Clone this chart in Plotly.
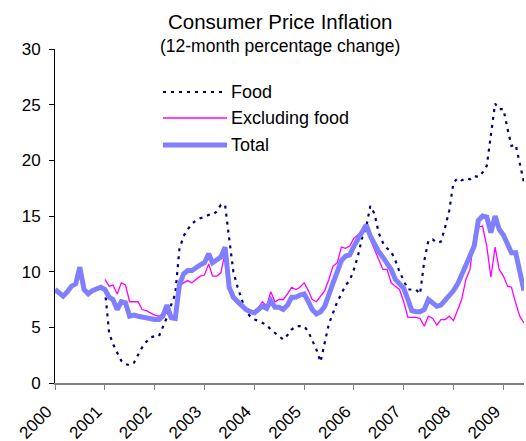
import plotly.graph_objects as go
import pandas as pd

start_total = "2000-01-01"
start_sub = "2001-01-01"

total = [8.4, 8.1, 7.8, 8.2, 8.7, 8.9, 10.4, 8.4, 8.0, 8.3, 8.5, 8.6,
         8.4, 7.7, 7.5, 6.6, 7.3, 7.2, 6.0, 6.1, 6.0, 5.9, 5.9, 5.8,
         5.7, 5.7, 6.0, 7.0, 5.9, 5.8, 8.8, 9.8, 10.1, 10.1, 10.4, 10.6,
         10.8, 11.6, 10.8, 11.1, 11.3, 12.2, 8.6, 7.7, 7.3, 6.9, 6.6, 6.4,
         6.3, 6.6, 6.9, 6.7, 7.4, 6.8, 6.8, 6.6, 7.0, 7.7, 7.7, 7.9,
         8.0, 7.3, 6.6, 6.2, 6.4, 6.9, 7.8, 9.0, 10.0, 11.0, 11.4, 11.5,
         12.3, 13.0, 13.6, 14.2, 13.2, 12.4, 11.8, 11.3, 10.8, 10.2, 9.3, 8.9,
         8.5, 7.5, 6.5, 6.4, 6.4, 6.6, 7.5, 7.2, 6.9, 7.0, 7.4, 7.9,
         8.3, 8.9, 9.7, 10.6, 11.3, 12.3, 14.6, 15.0, 14.9, 13.5, 15.0, 13.8,
         13.3, 12.5, 11.7, 11.7, 10.0, 8.3]

food = [8.4, 4.5, 3.5, 2.7, 2.0, 1.7, 1.6, 1.8, 2.5, 3.2, 3.7, 4.1,
        4.2, 4.2, 5.0, 5.9, 7.0, 8.0, 12.0, 13.2, 13.8, 14.3, 14.6, 14.8,
        14.9, 15.1, 15.1, 15.4, 16.0, 16.0, 13.0, 10.0, 8.6, 7.6, 6.4, 6.0,
        5.7, 5.6, 5.4, 5.2, 4.8, 4.5, 4.2, 3.9, 4.3, 4.8, 5.1, 5.1,
        5.1, 4.6, 3.8, 3.0, 1.9, 3.8, 5.3, 6.3, 7.3, 8.0, 8.8, 9.2,
        10.2, 11.5, 13.0, 14.0, 15.9, 15.2, 13.5, 12.6, 12.1, 11.8, 11.0, 10.0,
        9.2, 8.4, 8.4, 8.4, 8.0, 11.0, 12.8, 12.9, 12.6, 12.7, 14.0, 15.5,
        18.0, 18.4, 18.2, 18.4, 18.3, 18.6, 18.5, 18.9, 19.5, 22.5, 25.1, 24.6,
        24.6, 22.8, 21.3, 21.4, 19.8, 18.0]

excl_food = [9.3, 8.7, 8.8, 8.0, 9.0, 8.8, 7.3, 7.3, 7.3, 6.6, 6.5, 6.3,
             6.1, 6.0, 6.2, 6.3, 5.7, 5.7, 8.7, 9.0, 9.2, 9.0, 9.3, 9.6,
             9.7, 10.7, 9.6, 9.6, 9.9, 11.7, 8.4, 7.5, 7.1, 6.8, 6.5, 6.4,
             6.3, 6.8, 7.3, 6.9, 8.2, 7.3, 7.5, 7.5, 8.0, 8.6, 8.4, 8.6,
             9.0, 8.3, 7.5, 7.3, 7.8, 8.3, 9.3, 10.5, 10.8, 12.2, 12.1, 12.3,
             13.0, 13.3, 13.6, 14.2, 12.9, 12.0, 11.1, 10.2, 10.2, 9.0, 8.7, 8.4,
             7.3, 5.9, 5.9, 5.9, 5.8, 5.1, 6.0, 5.8, 5.2, 5.7, 5.7, 6.0,
             5.6, 6.6, 7.5, 9.3, 10.2, 13.2, 14.0, 14.1, 12.3, 9.5, 12.2, 10.2,
             9.6, 8.7, 8.6, 7.2, 6.0, 5.4]

dates_total = pd.date_range(start_total, periods=len(total), freq="MS")
dates_sub = pd.date_range(start_sub, periods=len(food), freq="MS")

FONT = "Liberation Sans, Arial, sans-serif"
C_FOOD = "#000080"
C_EXCL = "#FF00FF"
C_TOT = "#8080FF"

W, H = 526, 441
ML, MR, MT, MB = 55, 2, 49, 58
plot_h = H - MT - MB
plot_w = W - ML - MR

fig = go.Figure()
fig.add_trace(go.Scatter(x=dates_sub, y=food, mode="lines", name="Food",
                         line=dict(color=C_FOOD, width=2.2, dash="3px,5px")))
fig.add_trace(go.Scatter(x=dates_sub, y=excl_food, mode="lines", name="Excluding food",
                         line=dict(color=C_EXCL, width=1.3)))
fig.add_trace(go.Scatter(x=dates_total, y=total, mode="lines", name="Total",
                         line=dict(color=C_TOT, width=5)))

fig.update_layout(
    width=W, height=H,
    margin=dict(l=ML, r=MR, t=MT, b=MB, autoexpand=False),
    paper_bgcolor="white", plot_bgcolor="white",
    showlegend=False,
    font=dict(family=FONT, size=15, color="black"),
)

# title and subtitle
fig.add_annotation(xref="paper", yref="paper", x=(280 - ML) / plot_w, y=1 + (MT - 21) / plot_h,
                   text="Consumer Price Inflation", showarrow=False,
                   xanchor="center", yanchor="middle",
                   font=dict(family=FONT, size=20.5, color="black"))
fig.add_annotation(xref="paper", yref="paper", x=(280 - ML) / plot_w, y=1 + (MT - 46) / plot_h,
                   text="(12-month percentage change)", showarrow=False,
                   xanchor="center", yanchor="middle",
                   font=dict(family=FONT, size=17.5, color="black"))

fig.update_xaxes(
    range=[dates_total[0], dates_total[-1]],
    tickformat="%Y", dtick="M12", tick0="2000-01-01",
    tickangle=-45, ticks="outside", ticklen=5, tickcolor="#808080", tickwidth=1,
    ticklabelshift=-8, ticklabelstandoff=5,
    showline=True, linecolor="#808080", linewidth=2,
    showgrid=False, zeroline=False, automargin=False,
    tickfont=dict(family=FONT, size=17, color="black"),
)
fig.update_yaxes(
    range=[0, 30], dtick=5, ticks="outside", ticklen=5, tickcolor="black",
    ticklabelstandoff=5,
    showline=True, linecolor="black", linewidth=1,
    showgrid=False, zeroline=False, automargin=False,
    tickfont=dict(family=FONT, size=17, color="black"),
)

# legend drawn in paper coordinates
legend_items = [("Food", C_FOOD, 2.2, "3px,5px"), ("Excluding food", C_EXCL, 1.3, "solid"), ("Total", C_TOT, 5, "solid")]
legend_y_px = [92, 118, 145]
for (name, col, w, dash), ypx in zip(legend_items, legend_y_px):
    yp = 1 - (ypx - MT) / plot_h
    x0 = (163 - ML) / plot_w
    x1 = (227 - ML) / plot_w
    fig.add_shape(type="line", xref="paper", yref="paper", x0=x0, x1=x1, y0=yp, y1=yp,
                  line=dict(color=col, width=w, dash=dash))
    fig.add_annotation(xref="paper", yref="paper", x=(229 - ML) / plot_w, y=yp,
                       text=name, showarrow=False, xanchor="left", yanchor="middle",
                       font=dict(family=FONT, size=18, color="black"))

fig.write_html("out.html", config={"displayModeBar": False},
               post_script="document.body.style.margin='0';document.body.style.overflow='hidden';")
